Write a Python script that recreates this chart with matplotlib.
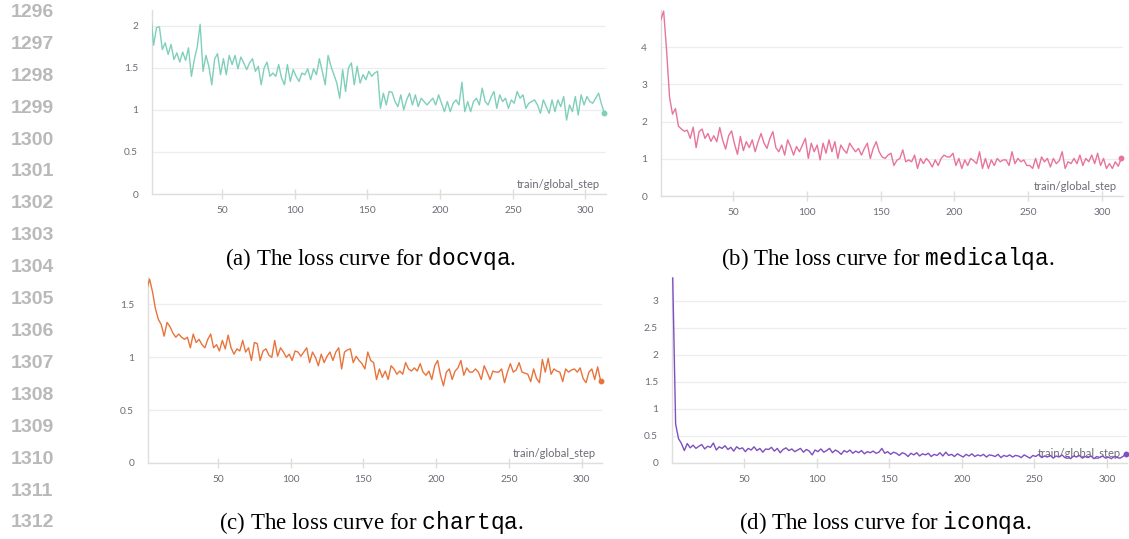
import numpy as np
import matplotlib
matplotlib.use('Agg')
import matplotlib.pyplot as plt
from matplotlib.ticker import FuncFormatter

plt.rcParams['mathtext.fontset'] = 'custom'
plt.rcParams['mathtext.tt'] = 'Liberation Mono'
plt.rcParams['mathtext.rm'] = 'Liberation Serif'

# logged every other step (train/global_step)
steps = np.arange(1, 314, 2)

docvqa = [2.15, 1.77, 1.98, 1.99, 1.72, 1.80, 1.66, 1.78, 1.60, 1.68,
          1.57, 1.69, 1.59, 1.74, 1.40, 1.60, 1.75, 2.02, 1.46, 1.65,
          1.52, 1.30, 1.61, 1.67, 1.42, 1.61, 1.42, 1.65, 1.54, 1.65,
          1.49, 1.63, 1.56, 1.48, 1.56, 1.61, 1.46, 1.52, 1.30, 1.50,
          1.57, 1.40, 1.44, 1.40, 1.54, 1.38, 1.30, 1.54, 1.34, 1.48,
          1.40, 1.34, 1.44, 1.42, 1.49, 1.36, 1.49, 1.42, 1.61, 1.46,
          1.30, 1.65, 1.52, 1.42, 1.32, 1.14, 1.48, 1.22, 1.50, 1.56,
          1.30, 1.52, 1.32, 1.42, 1.36, 1.46, 1.40, 1.44, 1.46, 1.02,
          1.20, 1.06, 1.22, 1.21, 1.10, 1.04, 1.18, 1.00, 1.12, 1.20,
          1.06, 1.18, 1.04, 1.14, 1.10, 1.06, 1.10, 1.14, 1.06, 1.18,
          1.08, 0.98, 1.10, 0.98, 1.08, 1.12, 1.06, 1.33, 0.98, 1.10,
          0.98, 1.10, 1.14, 1.06, 1.26, 1.10, 1.06, 1.15, 1.22, 1.02,
          1.18, 1.10, 1.14, 1.02, 1.12, 1.08, 1.22, 1.14, 1.18, 1.02,
          1.08, 1.10, 1.12, 1.06, 0.96, 1.12, 1.04, 0.96, 1.12, 0.98,
          1.12, 1.04, 1.16, 0.88, 1.06, 0.98, 1.16, 0.94, 1.18, 1.06,
          1.16, 1.10, 1.08, 1.14, 1.20, 1.07, 0.96]

medicalqa = [4.73, 4.97, 3.90, 2.65, 2.20, 2.35, 1.88, 1.80, 1.74, 1.77,
             1.55, 1.85, 1.30, 1.73, 1.80, 1.55, 1.68, 1.47, 1.62, 1.46,
             1.84, 1.50, 1.26, 1.62, 1.75, 1.40, 1.12, 1.60, 1.22, 1.46,
             1.30, 1.51, 1.19, 1.46, 1.68, 1.42, 1.28, 1.55, 1.73, 1.30,
             1.19, 1.37, 1.10, 1.51, 1.33, 1.10, 1.33, 1.19, 1.37, 1.55,
             1.01, 1.42, 1.19, 1.37, 0.97, 1.42, 1.15, 1.51, 1.19, 1.46,
             1.01, 1.37, 1.24, 1.15, 1.42, 1.30, 1.19, 1.28, 1.10, 1.28,
             1.42, 1.01, 1.28, 1.46, 1.19, 1.05, 1.01, 1.10, 1.15, 0.82,
             0.96, 1.01, 1.24, 0.92, 0.97, 0.92, 1.10, 0.74, 1.01, 0.87,
             1.01, 0.92, 0.78, 0.97, 0.82, 1.01, 1.10, 1.05, 1.05, 1.15,
             0.82, 1.01, 0.74, 0.97, 0.82, 1.01, 0.95, 0.87, 1.19, 0.74,
             1.01, 0.74, 0.97, 0.82, 1.01, 0.92, 0.97, 0.97, 0.82, 1.19,
             0.87, 1.01, 0.92, 0.97, 0.82, 0.82, 0.74, 1.01, 0.74, 1.05,
             0.92, 1.01, 0.78, 1.01, 0.87, 0.95, 1.19, 0.74, 0.92, 0.87,
             1.01, 0.87, 1.10, 0.82, 1.01, 0.92, 1.10, 0.87, 1.15, 0.82,
             1.01, 0.74, 0.87, 0.74, 0.92, 0.80, 1.01]

chartqa = [1.64, 1.74, 1.62, 1.46, 1.36, 1.31, 1.20, 1.33, 1.29, 1.23,
           1.19, 1.22, 1.19, 1.17, 1.19, 1.09, 1.22, 1.14, 1.17, 1.12,
           1.09, 1.17, 1.22, 1.09, 1.12, 1.06, 1.16, 1.08, 1.21, 1.09,
           1.03, 1.08, 1.06, 1.16, 1.05, 1.09, 0.97, 1.14, 1.13, 0.97,
           1.06, 1.08, 1.02, 1.00, 1.16, 1.01, 1.09, 1.05, 1.00, 1.03,
           0.97, 1.06, 1.05, 1.01, 1.05, 1.09, 0.95, 1.05, 1.00, 0.92,
           1.03, 0.95, 1.01, 1.05, 0.97, 1.05, 1.09, 0.89, 1.05, 1.07,
           1.08, 0.95, 1.01, 0.97, 0.94, 0.89, 1.05, 0.97, 0.95, 0.79,
           0.89, 0.81, 0.87, 0.79, 0.92, 0.89, 0.84, 0.87, 0.84, 0.95,
           0.89, 0.87, 0.90, 0.87, 0.94, 0.86, 0.83, 0.87, 0.79, 0.92,
           0.97, 0.83, 0.73, 0.86, 0.89, 0.79, 0.87, 0.90, 0.97, 0.83,
           0.90, 0.86, 0.86, 0.89, 0.86, 0.79, 0.92, 0.86, 0.79, 0.87,
           0.86, 0.86, 0.89, 0.76, 0.86, 0.94, 0.86, 0.88, 0.95, 0.86,
           0.85, 0.84, 0.77, 0.89, 0.80, 0.76, 0.98, 0.86, 0.99, 0.84,
           0.89, 0.87, 0.86, 0.77, 0.89, 0.86, 0.88, 0.89, 0.86, 0.90,
           0.80, 0.76, 0.86, 0.89, 0.79, 0.91, 0.78]

iconqa = [3.42, 0.72, 0.45, 0.36, 0.23, 0.36, 0.28, 0.33, 0.27, 0.31,
          0.34, 0.26, 0.31, 0.29, 0.37, 0.24, 0.30, 0.27, 0.32, 0.25,
          0.29, 0.22, 0.30, 0.26, 0.28, 0.21, 0.27, 0.24, 0.30, 0.23,
          0.27, 0.20, 0.26, 0.25, 0.29, 0.22, 0.27, 0.19, 0.25, 0.28,
          0.23, 0.26, 0.21, 0.24, 0.27, 0.20, 0.25, 0.22, 0.15, 0.24,
          0.21, 0.26, 0.20, 0.23, 0.27, 0.19, 0.24, 0.21, 0.16, 0.23,
          0.20, 0.24, 0.18, 0.22, 0.19, 0.23, 0.17, 0.21, 0.19, 0.22,
          0.18, 0.20, 0.27, 0.18, 0.21, 0.16, 0.20, 0.18, 0.14, 0.19,
          0.17, 0.12, 0.18, 0.15, 0.19, 0.13, 0.17, 0.15, 0.18, 0.12,
          0.16, 0.14, 0.19, 0.13, 0.20, 0.14, 0.16, 0.12, 0.17, 0.14,
          0.11, 0.16, 0.13, 0.17, 0.12, 0.15, 0.13, 0.16, 0.11, 0.15,
          0.14, 0.12, 0.16, 0.10, 0.14, 0.12, 0.15, 0.11, 0.14, 0.13,
          0.10, 0.15, 0.12, 0.09, 0.14, 0.12, 0.16, 0.10, 0.13, 0.11,
          0.14, 0.09, 0.13, 0.11, 0.15, 0.10, 0.12, 0.08, 0.13, 0.11,
          0.14, 0.09, 0.12, 0.10, 0.13, 0.08, 0.12, 0.10, 0.13, 0.09,
          0.11, 0.08, 0.12, 0.10, 0.09, 0.12, 0.17]

xticks = [50, 100, 150, 200, 250, 300]
line_numbers = list(range(1296, 1313))

W, H = 1129, 539
fig = plt.figure(figsize=(11.29, 5.39), dpi=100)


def rect(l, t, r, b):
    return [l / W, 1 - b / H, (r - l) / W, (b - t) / H]


# values, colour, pixel box, xlim, ymax, yticks, caption, caption centre
panels = [
    (docvqa, '#7fcfba', (152, 10, 606, 194), (1.9, 314.1), 2.19,
     [0, 0.5, 1, 1.5, 2], '(a)', 'docvqa', (371, 258)),
    (medicalqa, '#e8739c', (661, 10, 1123, 196), (1.2, 314.2), 5.0,
     [0, 1, 2, 3, 4], '(b)', 'medicalqa', (888, 258)),
    (chartqa, '#e8743b', (148, 277, 602, 463), (1.9, 314.0), 1.76,
     [0, 0.5, 1, 1.5], '(c)', 'chartqa', (371, 523)),
    (iconqa, '#7e4fbf', (672, 277, 1127, 463), (0.5, 313.8), 3.44,
     [0, 0.5, 1, 1.5, 2, 2.5, 3], '(d)', 'iconqa', (885, 523)),
]

tick_col = '#6b6b76'
axis_col = '#dedede'

for vals, col, box, xl, ymax, yt, tag, name, cc in panels:
    ax = fig.add_axes(rect(*box))
    ax.plot(steps, vals, color=col, lw=1.0, zorder=3)
    ax.plot(steps[-1], vals[-1], 'o', ms=3.2, color=col, zorder=4, clip_on=False)
    ax.set_xlim(*xl)
    ax.set_ylim(0, ymax)
    ax.set_xticks(xticks)
    ax.set_yticks(yt)
    ax.yaxis.set_major_formatter(FuncFormatter(lambda v, p: f'{v:g}'))
    ax.grid(axis='y', color='#ededed', lw=0.9)
    ax.set_axisbelow(True)
    for s in ['top', 'right']:
        ax.spines[s].set_visible(False)
    for s in ['left', 'bottom']:
        ax.spines[s].set_color(axis_col)
        ax.spines[s].set_linewidth(1)
    ax.tick_params(axis='x', direction='inout', length=7, width=1, color=axis_col,
                   labelsize=7.3, labelcolor=tick_col, pad=5)
    ax.tick_params(axis='y', length=0, pad=10, labelsize=7.3, labelcolor=tick_col)
    for lab in ax.get_xticklabels() + ax.get_yticklabels():
        lab.set_family('Lato')
    ax.text(0.987, 0.02, 'train/global_step', transform=ax.transAxes, ha='right',
            va='bottom', fontsize=8, color=tick_col, family='Lato', zorder=1)
    fig.text(cc[0] / W, 1 - cc[1] / H,
             tag + ' The loss curve for $\\mathtt{' + name + '}$.',
             ha='center', va='center', fontsize=16.5, family='Liberation Serif')

for k, n in enumerate(line_numbers):
    fig.text(32 / W, 1 - (12.5 + k * 31.9) / H, str(n), ha='center', va='center',
             fontsize=14, fontweight='bold', color='#b9b9b9', family='Liberation Sans')

fig.savefig('out.png', dpi=100)
